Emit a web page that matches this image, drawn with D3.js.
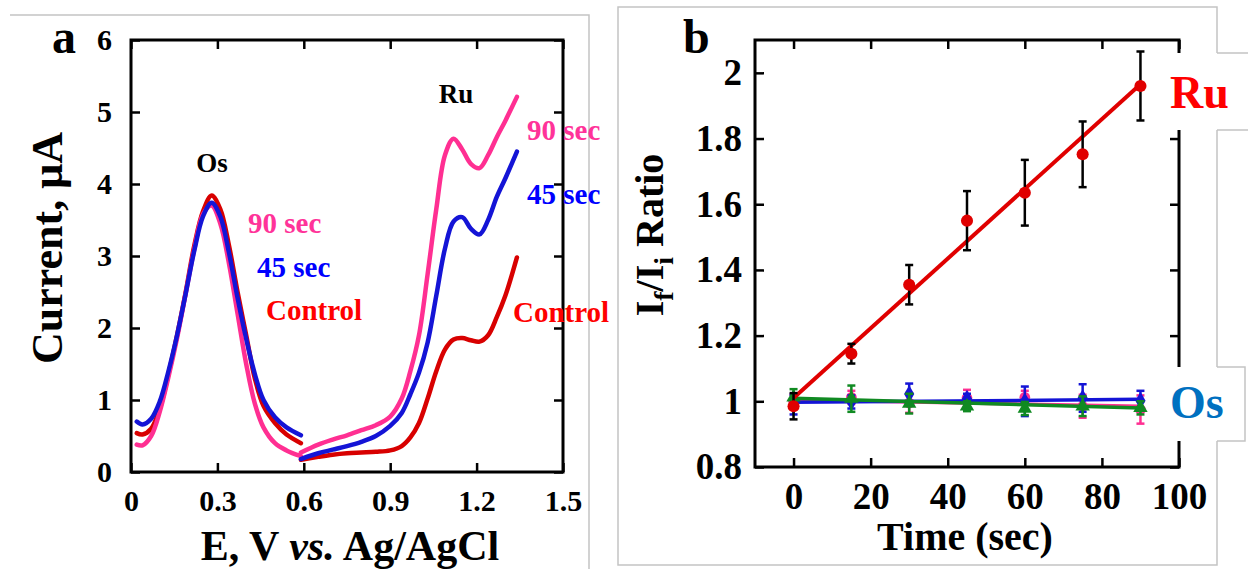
<!DOCTYPE html>
<html>
<head>
<meta charset="utf-8">
<script src="https://cdn.jsdelivr.net/npm/d3@7"></script>
<style>
  body { margin: 0; background: #fff; }
  svg { display: block; font-family: "Liberation Serif", "Times New Roman", serif; font-weight: bold; }
</style>
</head>
<body>
<div id="chart"></div>
<script>
// ---- panel a : voltammograms (E in V, current in uA) ----
const osPotential = [0.02, 0.04, 0.07, 0.10, 0.13, 0.16, 0.19, 0.22, 0.25, 0.28, 0.31, 0.34, 0.37, 0.40, 0.43, 0.46, 0.50, 0.54, 0.59]
const osControl = [0.54, 0.52, 0.60, 0.88, 1.36, 1.90, 2.50, 3.15, 3.62, 3.84, 3.65, 3.15, 2.50, 1.90, 1.30, 0.92, 0.68, 0.52, 0.40]
const os45 = [0.70, 0.66, 0.74, 0.98, 1.40, 1.90, 2.48, 3.08, 3.55, 3.74, 3.55, 3.05, 2.42, 1.85, 1.36, 1.00, 0.76, 0.62, 0.51]
const os90 = [0.38, 0.37, 0.50, 0.84, 1.32, 1.86, 2.48, 3.10, 3.58, 3.70, 3.45, 2.90, 2.20, 1.50, 0.95, 0.62, 0.40, 0.30, 0.22]

const ruPotential = [0.59, 0.65, 0.70, 0.75, 0.80, 0.85, 0.90, 0.94, 0.97, 1.00, 1.03, 1.06, 1.09, 1.12, 1.15, 1.18, 1.21, 1.24, 1.27, 1.30, 1.34]
const ruControl = [0.17, 0.21, 0.24, 0.26, 0.27, 0.28, 0.30, 0.36, 0.48, 0.68, 1.02, 1.40, 1.70, 1.84, 1.86, 1.83, 1.81, 1.90, 2.15, 2.45, 2.98]
const ru45 = [0.18, 0.26, 0.31, 0.36, 0.42, 0.50, 0.64, 0.82, 1.08, 1.38, 1.80, 2.45, 3.10, 3.48, 3.54, 3.38, 3.30, 3.50, 3.82, 4.08, 4.45]
const ru90 = [0.27, 0.38, 0.45, 0.51, 0.58, 0.65, 0.77, 1.02, 1.40, 1.90, 2.75, 3.65, 4.40, 4.63, 4.48, 4.28, 4.22, 4.40, 4.65, 4.88, 5.21]

const potentialTicks = [0, 0.3, 0.6, 0.9, 1.2, 1.5]
const potentialLabels = ['0', '0.3', '0.6', '0.9', '1.2', '1.5']
const currentTicks = [0, 1, 2, 3, 4, 5, 6]
const currentLabels = ['0', '1', '2', '3', '4', '5', '6']

// ---- panel b : If/Ii ratio vs time ----
const times = [0, 15, 30, 45, 60, 75, 90]
const ruRatio = [0.985, 1.145, 1.355, 1.55, 1.635, 1.752, 1.96]
const ruError = [0.04, 0.03, 0.06, 0.09, 0.10, 0.10, 0.105]
const fitTimes = [0, 90]
const ruFit = [1.01, 1.965]

const osPinkRatio = [1.0, 1.012, 0.995, 1.01, 1.012, 0.985, 0.975]
const osPinkError = [0.02, 0.02, 0.03, 0.025, 0.02, 0.035, 0.043]
const osPinkFit = [1.005, 0.985]
const osBlueRatio = [0.99, 0.998, 1.022, 1.008, 1.0, 1.01, 1.002]
const osBlueError = [0.03, 0.02, 0.032, 0.015, 0.045, 0.042, 0.03]
const osBlueFit = [0.997, 1.006]
const osGreenRatio = [1.012, 1.008, 0.993, 0.985, 0.978, 0.985, 0.98]
const osGreenError = [0.025, 0.04, 0.03, 0.015, 0.02, 0.03, 0.02]
const osGreenFit = [1.009, 0.98]

const timeTicks = [0, 20, 40, 60, 80, 100]
const timeLabels = ['0', '20', '40', '60', '80', '100']
const ratioTicks = [0.8, 1, 1.2, 1.4, 1.6, 1.8, 2]
const ratioLabels = ['0.8', '1', '1.2', '1.4', '1.6', '1.8', '2']

const PINK = '#ff2f92', BLUE = '#1414d6', RED = '#d80000', GREEN = '#108a22'

const svg = d3.select('#chart').append('svg')
  .attr('width', 1248)
  .attr('height', 569)

// grey outlines of the pasted panels
const frames = svg.append('g').attr('fill', 'none').attr('stroke', '#c4c4c4').attr('stroke-width', 1.5)
frames.append('path').attr('d', 'M10,15H589V569')
frames.append('path').attr('d', 'M1248,53H1217V7H618V565H1217V441H1245V367H1217V130H1248')

/**
 * Draws the boxed axes with inward ticks on all four sides
 */
const addAxes = (x, y, cfg) => {
  const [x0, x1] = x.range()
  const [y0, y1] = y.range()
  const style = g => {
    g.attr('font-family', null).attr('font-size', cfg.fontSize)
    g.select('.domain').remove()
    g.selectAll('.tick line').attr('stroke', '#000').attr('stroke-width', 2.5)
  }
  const fmt = labels => (d, i) => labels[i]
  svg.append('g').attr('transform', `translate(0,${y0})`)
    .call(d3.axisBottom(x).tickValues(cfg.xTicks).tickFormat(fmt(cfg.xLabels))
      .tickSizeInner(-cfg.tick).tickSizeOuter(0).tickPadding(cfg.xPad))
    .call(style)
  svg.append('g').attr('transform', `translate(0,${y1})`)
    .call(d3.axisTop(x).tickValues(cfg.xTicks).tickFormat('').tickSizeInner(-cfg.tick).tickSizeOuter(0))
    .call(style)
  svg.append('g').attr('transform', `translate(${x0},0)`)
    .call(d3.axisLeft(y).tickValues(cfg.yTicks).tickFormat(fmt(cfg.yLabels))
      .tickSizeInner(-cfg.tick).tickSizeOuter(0).tickPadding(cfg.yPad))
    .call(style)
  svg.append('g').attr('transform', `translate(${x1},0)`)
    .call(d3.axisRight(y).tickValues(cfg.yTicks).tickFormat('').tickSizeInner(-cfg.tick).tickSizeOuter(0))
    .call(style)
  svg.append('rect')
    .attr('x', x0).attr('y', y1)
    .attr('width', x1 - x0).attr('height', y0 - y1)
    .attr('fill', 'none').attr('stroke', '#000').attr('stroke-width', 3)
}

const addText = (x, y, str, size, color, anchor = 'start') => svg.append('text')
  .attr('x', x).attr('y', y)
  .attr('font-size', size)
  .attr('fill', color)
  .attr('text-anchor', anchor)
  .text(str)

// ================= panel a =================
const xA = d3.scaleLinear().domain([0, 1.5]).range([131, 563])
const yA = d3.scaleLinear().domain([0, 6]).range([472, 40])

addAxes(xA, yA, {
  xTicks: potentialTicks, xLabels: potentialLabels,
  yTicks: currentTicks, yLabels: currentLabels,
  tick: 9, xPad: 18, yPad: 19, fontSize: 30
})

const curveA = d3.line()
  .x(d => xA(d[0]))
  .y(d => yA(d[1]))
  .curve(d3.curveCatmullRom.alpha(0.5))

const voltammograms = [
  [osPotential, osControl, RED], [osPotential, os90, PINK], [osPotential, os45, BLUE],
  [ruPotential, ruControl, RED], [ruPotential, ru90, PINK], [ruPotential, ru45, BLUE]
]
svg.append('g')
  .selectAll('path')
  .data(voltammograms)
  .join('path')
  .attr('fill', 'none')
  .attr('stroke', d => d[2])
  .attr('stroke-width', 4.5)
  .attr('stroke-linecap', 'round')
  .attr('d', d => curveA(d[0].map((e, i) => [e, d[1][i]])))

addText(212, 172, 'Os', 27, '#000', 'middle')
addText(456, 103, 'Ru', 27, '#000', 'middle')
addText(248, 233, '90 sec', 29, '#ff3399')
addText(257, 277, '45 sec', 29, '#0000ff')
addText(266, 320, 'Control', 29, '#ff0000')
addText(527, 140, '90 sec', 29, '#ff3399')
addText(527, 204, '45 sec', 29, '#0000ff')
addText(513, 322, 'Control', 29, '#ff0000')

addText(52, 53, 'a', 48, '#000')
svg.append('text')
  .attr('transform', 'translate(62,248) rotate(-90)')
  .attr('text-anchor', 'middle')
  .attr('font-size', 44)
  .text('Current, \u03bcA')
const xTitleA = svg.append('text')
  .attr('x', 350).attr('y', 560)
  .attr('text-anchor', 'middle')
  .attr('font-size', 42)
xTitleA.append('tspan').text('E, V ')
xTitleA.append('tspan').attr('font-style', 'italic').text('vs.')
xTitleA.append('tspan').text(' Ag/AgCl')

// ================= panel b =================
const xB = d3.scaleLinear().domain([-10, 100]).range([755, 1179])
const yB = d3.scaleLinear().domain([0.8, 2.1]).range([467, 40])

addAxes(xB, yB, {
  xTicks: timeTicks, xLabels: timeLabels,
  yTicks: ratioTicks, yLabels: ratioLabels,
  tick: 9, xPad: 16, yPad: 13, fontSize: 37
})

const fitLine = d3.line().x(d => xB(d[0])).y(d => yB(d[1]))
const drawSeries = (ratio, error, fit, color, barColor, symbol, size) => {
  const pts = times.map((t, i) => ({ t, v: ratio[i], e: error[i] }))
  const g = svg.append('g')
  g.append('path')
    .attr('fill', 'none')
    .attr('stroke', color)
    .attr('stroke-width', color === BLUE || color === PINK || color === GREEN ? 3.5 : 4)
    .attr('d', fitLine(fitTimes.map((t, i) => [t, fit[i]])))
  const bars = g.selectAll('g.bar').data(pts).join('g').attr('class', 'bar')
    .attr('stroke', barColor).attr('stroke-width', 2.5)
  bars.append('line')
    .attr('x1', d => xB(d.t)).attr('x2', d => xB(d.t))
    .attr('y1', d => yB(d.v - d.e)).attr('y2', d => yB(d.v + d.e))
  bars.append('line')
    .attr('x1', d => xB(d.t) - 4).attr('x2', d => xB(d.t) + 4)
    .attr('y1', d => yB(d.v - d.e)).attr('y2', d => yB(d.v - d.e))
  bars.append('line')
    .attr('x1', d => xB(d.t) - 4).attr('x2', d => xB(d.t) + 4)
    .attr('y1', d => yB(d.v + d.e)).attr('y2', d => yB(d.v + d.e))
  g.selectAll('path.pt').data(pts).join('path').attr('class', 'pt')
    .attr('transform', d => `translate(${xB(d.t)},${yB(d.v)})`)
    .attr('fill', color)
    .attr('d', d3.symbol().type(symbol).size(size))
  return g
}

drawSeries(osPinkRatio, osPinkError, osPinkFit, PINK, PINK, d3.symbolCircle, 90)
drawSeries(osBlueRatio, osBlueError, osBlueFit, BLUE, BLUE, d3.symbolDiamond, 90)
drawSeries(osGreenRatio, osGreenError, osGreenFit, GREEN, GREEN, d3.symbolTriangle, 90)
drawSeries(ruRatio, ruError, ruFit, '#e00000', '#000', d3.symbolCircle, 115)

// white label boxes hide the right axis behind Ru / Os
svg.append('rect').attr('x', 1165).attr('y', 53).attr('width', 52).attr('height', 77).attr('fill', '#fff')
svg.append('rect').attr('x', 1165).attr('y', 367).attr('width', 52).attr('height', 74).attr('fill', '#fff')
addText(1170, 108, 'Ru', 46, '#ff0000')
addText(1170, 418, 'Os', 46, '#0070c0')

addText(683, 53, 'b', 48, '#000')
addText(965, 550, 'Time (sec)', 40, '#000', 'middle')
const yTitleB = svg.append('text')
  .attr('transform', 'translate(663,235) rotate(-90)')
  .attr('text-anchor', 'middle')
  .attr('font-size', 40)
yTitleB.append('tspan').text('I')
yTitleB.append('tspan').attr('font-size', 28).attr('dy', 10).text('f')
yTitleB.append('tspan').attr('dy', -10).text('/I')
yTitleB.append('tspan').attr('font-size', 28).attr('dy', 10).text('i')
yTitleB.append('tspan').attr('dy', -10).text(' Ratio')
</script>
</body>
</html>
